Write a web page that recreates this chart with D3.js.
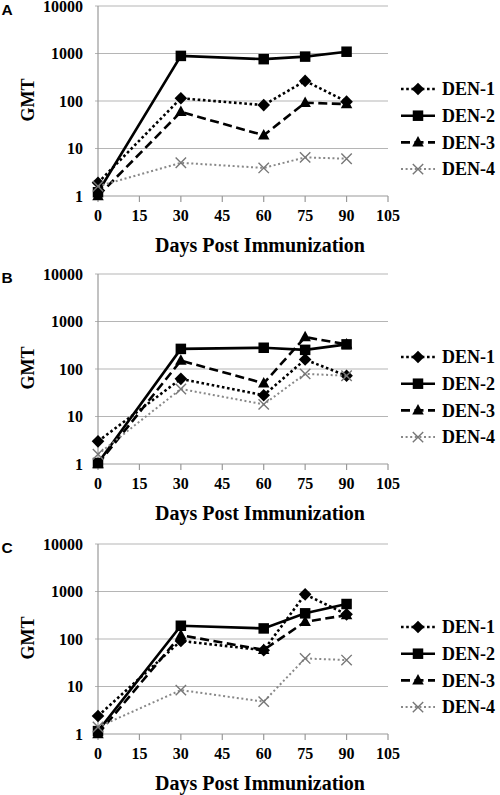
<!DOCTYPE html>
<html><head><meta charset="utf-8">
<script src="https://cdn.jsdelivr.net/npm/d3@7"></script>
<style>body{margin:0;background:#fff}svg{display:block}</style>
</head><body>
<svg id="c" width="500" height="795"></svg>
<script>
const days = [0, 30, 60, 75, 90];
const xTicks = [0, 15, 30, 45, 60, 75, 90, 105];
const yTicks = [1, 10, 100, 1000, 10000];
const seriesNames = ["DEN-1", "DEN-2", "DEN-3", "DEN-4"];
const panelLabels = ["A", "B", "C"];

// Panel A
const A_den1 = [1.9, 114, 82, 265, 97];
const A_den2 = [1.2, 890, 760, 860, 1090];
const A_den3 = [1.0, 59, 19, 92, 86];
const A_den4 = [1.6, 5.0, 3.9, 6.5, 6.1];
// Panel B
const B_den1 = [3.0, 62, 28, 158, 72];
const B_den2 = [1.05, 265, 280, 253, 330];
const B_den3 = [1.0, 150, 50, 470, 330];
const B_den4 = [1.6, 38, 18, 79, 72];
// Panel C
const C_den1 = [2.4, 91, 58, 870, 330];
const C_den2 = [1.15, 190, 167, 347, 545];
const C_den3 = [1.0, 120, 59, 230, 318];
const C_den4 = [1.4, 8.4, 4.8, 39, 36];

const panels = [
  {label: panelLabels[0], top: 6, series: [A_den1, A_den2, A_den3, A_den4]},
  {label: panelLabels[1], top: 274, series: [B_den1, B_den2, B_den3, B_den4]},
  {label: panelLabels[2], top: 544, series: [C_den1, C_den2, C_den3, C_den4]}
];

const styles = [
  {stroke: "#000", width: 2.6, dash: "2.6,2.6", marker: "diamond"},
  {stroke: "#000", width: 2.6, dash: null, marker: "square"},
  {stroke: "#000", width: 2.6, dash: "9,4.5", marker: "triangle"},
  {stroke: "#888", width: 2, dash: "2,2.6", marker: "x"}
];

const svg = d3.select("#c");
const plotH = 190;
const x = d3.scaleLinear().domain([0, 105]).range([98, 388]);

function serifText(sel, size) {
  return sel.style("font-family", '"Liberation Serif"').style("font-weight", "bold").style("font-size", size + "px");
}

function drawMarker(g, type, cx, cy) {
  if (type === "diamond") {
    const r = 6.3;
    g.append("path").attr("d", `M${cx},${cy-r}L${cx+r},${cy}L${cx},${cy+r}L${cx-r},${cy}Z`).attr("fill", "#000");
  } else if (type === "square") {
    const s = 10.5;
    g.append("rect").attr("x", cx - s/2).attr("y", cy - s/2).attr("width", s).attr("height", s).attr("fill", "#000");
  } else if (type === "triangle") {
    const w = 11.5, h = 10.5;
    g.append("path").attr("d", `M${cx},${cy-h*0.6}L${cx+w/2},${cy+h*0.4}L${cx-w/2},${cy+h*0.4}Z`).attr("fill", "#000");
  } else {
    const r = 5.2;
    g.append("path").attr("d", `M${cx-r},${cy-r}L${cx+r},${cy+r}M${cx-r},${cy+r}L${cx+r},${cy-r}`)
      .attr("stroke", "#777").attr("stroke-width", 1.4).attr("fill", "none");
  }
}

panels.forEach(p => {
  const top = p.top, bottom = top + plotH;
  const y = d3.scaleLog().domain([1, 10000]).range([bottom, top]);
  const g = svg.append("g");

  g.selectAll(".grid").data(yTicks).enter().append("line")
    .attr("x1", x(0) - 3).attr("x2", x(105))
    .attr("y1", d => y(d)).attr("y2", d => y(d))
    .attr("stroke", d => d === 1 ? "#999" : "#b5b5b5").attr("stroke-width", 1.2);
  g.append("line").attr("x1", x(0)).attr("x2", x(0)).attr("y1", top).attr("y2", bottom)
    .attr("stroke", "#999").attr("stroke-width", 1.2);
  g.selectAll(".xt").data(xTicks).enter().append("line")
    .attr("x1", d => x(d)).attr("x2", d => x(d)).attr("y1", bottom).attr("y2", bottom + 6)
    .attr("stroke", "#999").attr("stroke-width", 1.2);

  serifText(g.selectAll(".yl").data(yTicks).enter().append("text"), 16)
    .attr("x", 83).attr("y", d => y(d) + 5.5).attr("text-anchor", "end").text(d => d);
  serifText(g.selectAll(".xl").data(xTicks).enter().append("text"), 16)
    .attr("x", d => x(d)).attr("y", bottom + 24.5).attr("text-anchor", "middle").text(d => d);

  serifText(g.append("text"), 20).attr("x", 260).attr("y", bottom + 56).attr("text-anchor", "middle")
    .text("Days Post Immunization");
  serifText(g.append("text"), 18).attr("transform", `translate(33.5,${top + 94}) rotate(-90)`)
    .attr("text-anchor", "middle").text("GMT");

  g.append("text").style("font-family", '"Liberation Sans"').style("font-weight", "bold").style("font-size", "15.5px")
    .attr("x", 1.5).attr("y", top + 8.5).text(p.label);

  const line = d3.line().x((d, i) => x(days[i])).y(d => y(d));
  p.series.forEach((vals, si) => {
    const st = styles[si];
    const sg = g.append("g");
    sg.append("path").datum(vals).attr("d", line).attr("fill", "none")
      .attr("stroke", st.stroke).attr("stroke-width", st.width)
      .attr("stroke-dasharray", st.dash);
    vals.forEach((v, i) => drawMarker(sg, st.marker, x(days[i]), y(v)));
  });

  seriesNames.forEach((name, si) => {
    const st = styles[si];
    const cy = top + 83 + si * 26.7;
    const lg = g.append("g");
    lg.append("line").attr("x1", 401).attr("x2", 435).attr("y1", cy).attr("y2", cy)
      .attr("stroke", st.stroke).attr("stroke-width", st.width).attr("stroke-dasharray", st.dash);
    drawMarker(lg, st.marker, 418, cy);
    serifText(lg.append("text"), 18).attr("x", 442).attr("y", cy + 6.2).text(name);
  });
});
</script>
</body></html>
